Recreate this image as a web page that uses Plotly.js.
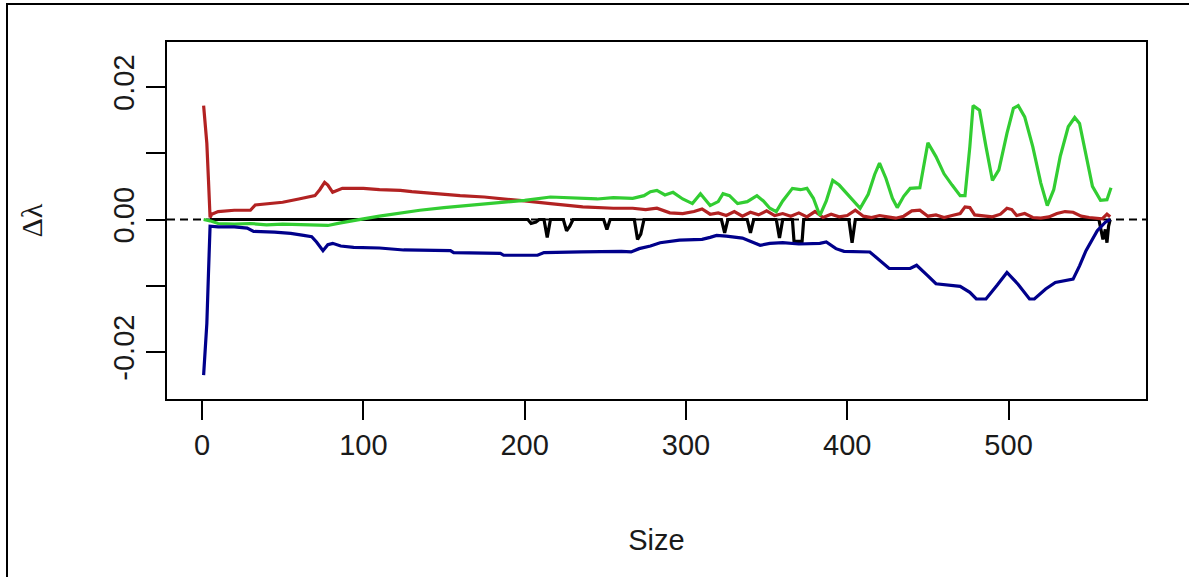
<!DOCTYPE html>
<html>
<head>
<meta charset="utf-8">
<script src="https://cdn.plot.ly/plotly-3.0.1.min.js"></script>
<style>
  html, body { margin: 0; padding: 0; background: #fff; }
  #wrap { position: relative; width: 1189px; height: 577px; overflow: hidden; }
  #chart { position: absolute; left: 0; top: 0; width: 1189px; height: 577px; }
  #frame { position: absolute; left: 6px; top: 3px; width: 1200px; height: 600px;
           border-left: 2px solid #000; border-top: 2px solid #000; pointer-events: none; }
</style>
</head>
<body>
<div id="wrap">
  <div id="chart"></div>
  <div id="frame"></div>
</div>
<script>
// ---- data ----
const redX = [1, 3, 4, 5, 6, 10, 20, 30, 33, 40, 50, 60, 65, 70, 73, 76, 78, 81, 87, 100, 110, 123, 130, 143, 160, 175, 185, 200, 216, 226, 236, 255, 267, 275, 282, 290, 298, 305, 310, 315, 320, 325, 330, 335, 340, 345, 350, 355, 360, 365, 370, 375, 380, 385, 390, 395, 400, 405, 410, 415, 420, 425, 430, 435, 440, 445, 450, 455, 460, 465, 470, 473, 476, 479, 485, 490, 495, 499, 502, 505, 510, 515, 520, 525, 530, 535, 540, 545, 550, 555, 558, 561, 563];
const redY = [0.0172, 0.0115, 0.006, 0.0003, 0.0008, 0.0012, 0.0014, 0.0014, 0.0022, 0.0024, 0.0026, 0.0031, 0.0033, 0.0036, 0.0045, 0.0056, 0.0052, 0.0041, 0.0047, 0.0047, 0.0045, 0.0044, 0.0042, 0.0039, 0.0036, 0.0034, 0.0032, 0.0028, 0.0024, 0.0021, 0.0019, 0.0017, 0.0017, 0.0015, 0.0017, 0.001, 0.0009, 0.0012, 0.0016, 0.0008, 0.001, 0.0006, 0.0012, 0.0005, 0.0011, 0.0007, 0.0013, 0.0006, 0.0009, 0.0005, 0.001, 0.0004, 0.0012, 0.0003, 0.0008, 0.0004, 0.0006, 0.0014, 0.0005, 0.0003, 0.0006, 0.0004, 0.0002, 0.0005, 0.0013, 0.0014, 0.0005, 0.0007, 0.0003, 0.0006, 0.0009, 0.0019, 0.0018, 0.0007, 0.0006, 0.0004, 0.0008, 0.0017, 0.0015, 0.0006, 0.0009, 0.0003, 0.0002, 0.0004, 0.0009, 0.0012, 0.0011, 0.0005, 0.0003, 0.0002, 0.0001, 0.0008, 0.0004];

const greenX = [1, 5, 10, 20, 30, 40, 50, 60, 70, 78, 86, 94, 100, 110, 120, 135, 150, 165, 185, 200, 216, 230, 245, 255, 267, 274, 278, 282, 287, 292, 298, 304, 309, 315, 320, 323, 327, 332, 338, 344, 348, 352, 356, 360, 366, 371, 375, 379, 383, 387, 391, 395, 400, 404, 408, 413, 417, 420, 424, 428, 431, 435, 439, 445, 450, 455, 460, 465, 470, 473, 476, 478, 482, 486, 490, 494, 499, 503, 506, 510, 515, 520, 524, 528, 532, 537, 541, 544, 548, 552, 557, 561, 563.5];
const greenY = [0, -0.0002, -0.0006, -0.0007, -0.0006, -0.0008, -0.0007, -0.0008, -0.0009, -0.0009, -0.0005, -0.0001, 0.0001, 0.0005, 0.0009, 0.0014, 0.0018, 0.0021, 0.0026, 0.0029, 0.0034, 0.0033, 0.0031, 0.0033, 0.0032, 0.0036, 0.0042, 0.0044, 0.0037, 0.0041, 0.0031, 0.0024, 0.0039, 0.0021, 0.0027, 0.0039, 0.0036, 0.0024, 0.0027, 0.0036, 0.0028, 0.0017, 0.0012, 0.0028, 0.0047, 0.0045, 0.0047, 0.0032, 0.0006, 0.0028, 0.0059, 0.0052, 0.0039, 0.0028, 0.0017, 0.0038, 0.0068, 0.0085, 0.0062, 0.0032, 0.0018, 0.0035, 0.0047, 0.0048, 0.0116, 0.0095, 0.0069, 0.0052, 0.0036, 0.0036, 0.011, 0.0172, 0.0165, 0.011, 0.0059, 0.0075, 0.013, 0.0168, 0.0172, 0.0155, 0.011, 0.0055, 0.0021, 0.0045, 0.0095, 0.014, 0.0154, 0.0145, 0.0095, 0.005, 0.0029, 0.003, 0.0048];

const blueX = [1, 3, 4, 5, 10, 20, 28, 32, 45, 55, 63, 68, 71, 75, 78, 81, 86, 94, 110, 125, 154, 156, 185, 187, 208, 212, 235, 260, 266, 271, 278, 284, 296, 310, 315, 319, 325, 335, 346, 352, 360, 370, 383, 387, 393, 398, 414, 420, 426, 439, 443, 450, 455, 470, 476, 480, 486, 493, 499, 506, 513, 516, 523, 529, 540, 544, 548, 555, 560, 563];
const blueY = [-0.0235, -0.0157, -0.0082, -0.001, -0.0011, -0.0011, -0.0013, -0.0018, -0.0019, -0.0021, -0.0024, -0.0026, -0.0034, -0.0047, -0.0038, -0.0036, -0.004, -0.0042, -0.0043, -0.0046, -0.0047, -0.005, -0.0051, -0.0054, -0.0054, -0.005, -0.0049, -0.0048, -0.0049, -0.0044, -0.004, -0.0035, -0.0031, -0.003, -0.0027, -0.0024, -0.0025, -0.0028, -0.0039, -0.0036, -0.0035, -0.0037, -0.0036, -0.0034, -0.0044, -0.0048, -0.0049, -0.0062, -0.0074, -0.0074, -0.0069, -0.0085, -0.0097, -0.0101, -0.011, -0.012, -0.012, -0.0099, -0.008, -0.0098, -0.012, -0.012, -0.0105, -0.0095, -0.009, -0.007, -0.0047, -0.0017, -0.0004, 0];

const blackX = [5, 202, 204, 207, 209, 212, 214, 216, 224, 226, 228, 230, 249, 251, 253, 268, 270, 272, 274, 322, 324, 326, 338, 340, 342, 356, 358, 360, 366, 367, 372, 373, 401, 403, 405, 556, 558.5, 560, 561, 562, 563];
const blackY = [0, 0, -0.0006, -0.0004, 0, 0, -0.0027, 0, 0, -0.0017, -0.001, 0, 0, -0.0015, 0, 0, -0.003, -0.0022, 0, 0, -0.002, 0, 0, -0.002, 0, 0, -0.0028, 0, 0, -0.0033, -0.0033, 0, 0, -0.0035, 0, 0, -0.003, -0.0015, -0.0035, -0.001, 0];

const xTicks = [0, 100, 200, 300, 400, 500];
const yTicks = [-0.02, -0.01, 0, 0.01, 0.02];
const yTickText = ['-0.02', '', '0.00', '', '0.02'];

// ---- chart ----
const lw = 3.2;
const traces = [
  {x: blackX, y: blackY, mode: 'lines', line: {color: '#000000', width: lw}, name: 'black'},
  {x: redX, y: redY, mode: 'lines', line: {color: '#b22222', width: lw}, name: 'red'},
  {x: greenX, y: greenY, mode: 'lines', line: {color: '#32cd32', width: lw}, name: 'green'},
  {x: blueX, y: blueY, mode: 'lines', line: {color: '#00008b', width: lw}, name: 'blue'}
];

const tickFont = {family: 'Liberation Sans, Arial, sans-serif', size: 29, color: '#1a1a1a'};

const layout = {
  width: 1189, height: 577,
  margin: {l: 167, r: 43, t: 42, b: 178},
  paper_bgcolor: '#ffffff', plot_bgcolor: '#ffffff',
  showlegend: false,
  xaxis: {
    range: [-21.7, 585.2], tickvals: xTicks, ticktext: xTicks.map(String),
    showgrid: false, zeroline: false, showline: true, mirror: true,
    linecolor: '#000', linewidth: 2, ticks: 'outside', ticklen: 19, tickwidth: 2, tickcolor: '#000',
    tickfont: tickFont,
    title: {text: 'Size', font: tickFont, standoff: 70},
    automargin: false
  },
  yaxis: {
    range: [-0.0271, 0.0268], tickvals: yTicks, ticktext: yTickText, tickangle: -90,
    showgrid: false, zeroline: false, showline: true, mirror: true,
    linecolor: '#000', linewidth: 2, ticks: 'outside', ticklen: 19, tickwidth: 2, tickcolor: '#000',
    tickfont: tickFont,
    title: {text: 'Δλ', font: {family: 'Liberation Serif, Times New Roman, serif', size: 30, color: '#1a1a1a'}, standoff: 57},
    automargin: false
  },
  shapes: [{
    type: 'line', xref: 'paper', x0: 0, x1: 1, yref: 'y', y0: 0, y1: 0,
    line: {color: '#000', width: 2, dash: '8px,5px'}, layer: 'below'
  }]
};

Plotly.newPlot('chart', traces, layout, {staticPlot: true, displayModeBar: false});
</script>
</body>
</html>
